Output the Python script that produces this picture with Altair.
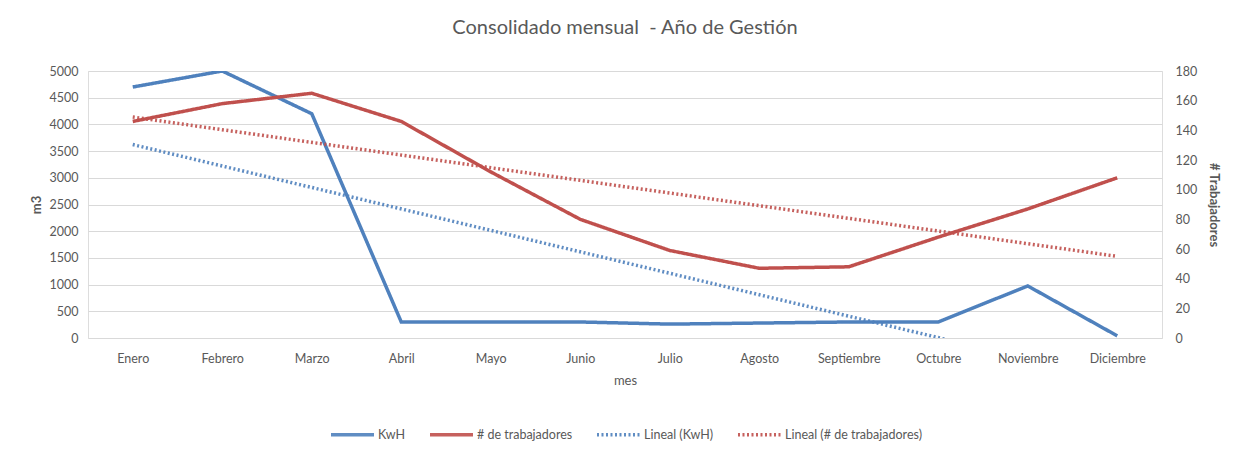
import altair as alt
import pandas as pd

months = ["Enero", "Febrero", "Marzo", "Abril", "Mayo", "Junio", "Julio",
          "Agosto", "Septiembre", "Octubre", "Noviembre", "Diciembre"]
kwh = [4700, 5000, 4200, 300, 300, 300, 260, 280, 300, 300, 975, 40]
trabajadores = [146, 158, 165, 146, 112, 80, 59, 47, 48, 68, 87, 108]
left_ticks = list(range(0, 5001, 500))
right_ticks = list(range(0, 181, 20))
series = ["KwH", "# de trabajadores", "Lineal (KwH)", "Lineal (# de trabajadores)"]

df = pd.DataFrame({"i": list(range(len(months))), "mes": months,
                   "kwh": kwh, "trab": trabajadores})

BLUE = "#4F81BD"
RED = "#C0504D"
GREY = "#595959"
FONT = "Lato"
LBL = 12.5

label_expr = "[" + ",".join("'%s'" % m for m in months) + "][datum.value]"

x_enc = alt.X("i:Q", scale=alt.Scale(domain=[-0.5, 11.5], nice=False, zero=False),
              axis=alt.Axis(values=list(range(len(months))), labelExpr=label_expr,
                            title="mes", grid=False, domain=False, ticks=False,
                            labelPadding=14, titlePadding=10, labelFontSize=LBL,
                            titleFontSize=13, titleFontWeight="normal",
                            labelColor=GREY, titleColor=GREY, labelFont=FONT,
                            titleFont=FONT))

legend = alt.Legend(title=None, orient="none", legendX=241, legendY=340,
                    direction="horizontal", symbolType="stroke", symbolSize=1850,
                    labelFontSize=LBL, labelColor=GREY, labelFont=FONT,
                    columnPadding=16, labelOffset=2)

color_scale = alt.Scale(domain=series, range=[BLUE, RED, BLUE, RED])
dash_scale = alt.Scale(domain=series, range=[[1, 0], [1, 0], [2, 2.5], [2, 2.5]])
width_scale = alt.Scale(domain=series, range=[3.5, 3.5, 2, 2])

enc = dict(
    color=alt.Color("serie:N", scale=color_scale, legend=legend),
    strokeDash=alt.StrokeDash("serie:N", scale=dash_scale, legend=legend),
    strokeWidth=alt.StrokeWidth("serie:O", scale=width_scale, legend=legend),
)

y_left = alt.Y("kwh:Q", scale=alt.Scale(domain=[0, 5000], nice=False),
               axis=alt.Axis(values=left_ticks, format="d", title="m3", grid=True,
                             gridColor="#D9D9D9", gridWidth=1.2, domain=False,
                             ticks=False, labelPadding=10, titlePadding=6,
                             labelFontSize=LBL, titleFontSize=13, labelColor=GREY,
                             titleColor=GREY, labelFont=FONT, titleFont=FONT))
y_right = alt.Y("trab:Q", scale=alt.Scale(domain=[0, 180], nice=False),
                axis=alt.Axis(orient="right", values=right_ticks, format="d",
                              title="# Trabajadores", grid=False, domain=False,
                              ticks=False, labelPadding=13, titlePadding=10,
                              labelFontSize=LBL, titleFontSize=13, labelColor=GREY,
                              titleColor=GREY, labelFont=FONT, titleFont=FONT))

base = alt.Chart(df)


def tag(name):
    return "'" + name + "'"

left = alt.layer(
    base.transform_calculate(serie=tag("KwH")).mark_line(clip=True).encode(
        x=x_enc, y=y_left, **enc),
    base.transform_regression("i", "kwh").transform_calculate(
        serie=tag("Lineal (KwH)")).mark_line(clip=True, opacity=0.9).encode(
        x=x_enc, y=y_left, **enc),
)
right = alt.layer(
    base.transform_calculate(serie=tag("# de trabajadores")).mark_line(clip=True).encode(
        x=x_enc, y=y_right, **enc),
    base.transform_regression("i", "trab").transform_calculate(
        serie=tag("Lineal (# de trabajadores)")).mark_line(clip=True, opacity=0.9).encode(
        x=x_enc, y=y_right, **enc),
)

chart = alt.layer(left, right).resolve_scale(y="independent").properties(
    width=1074, height=267,
    autosize=alt.AutoSizeParams(type="none"),
    padding={"left": 80, "top": 63, "right": 70, "bottom": 110},
    title=alt.TitleParams("Consolidado mensual \u00a0- Año de Gestión", fontSize=20,
                          font=FONT, fontWeight="normal", color=GREY,
                          anchor="middle", offset=27),
).configure_view(stroke=None).configure(background="white")

chart.save("out.html", embed_options={"renderer": "svg", "actions": False})
